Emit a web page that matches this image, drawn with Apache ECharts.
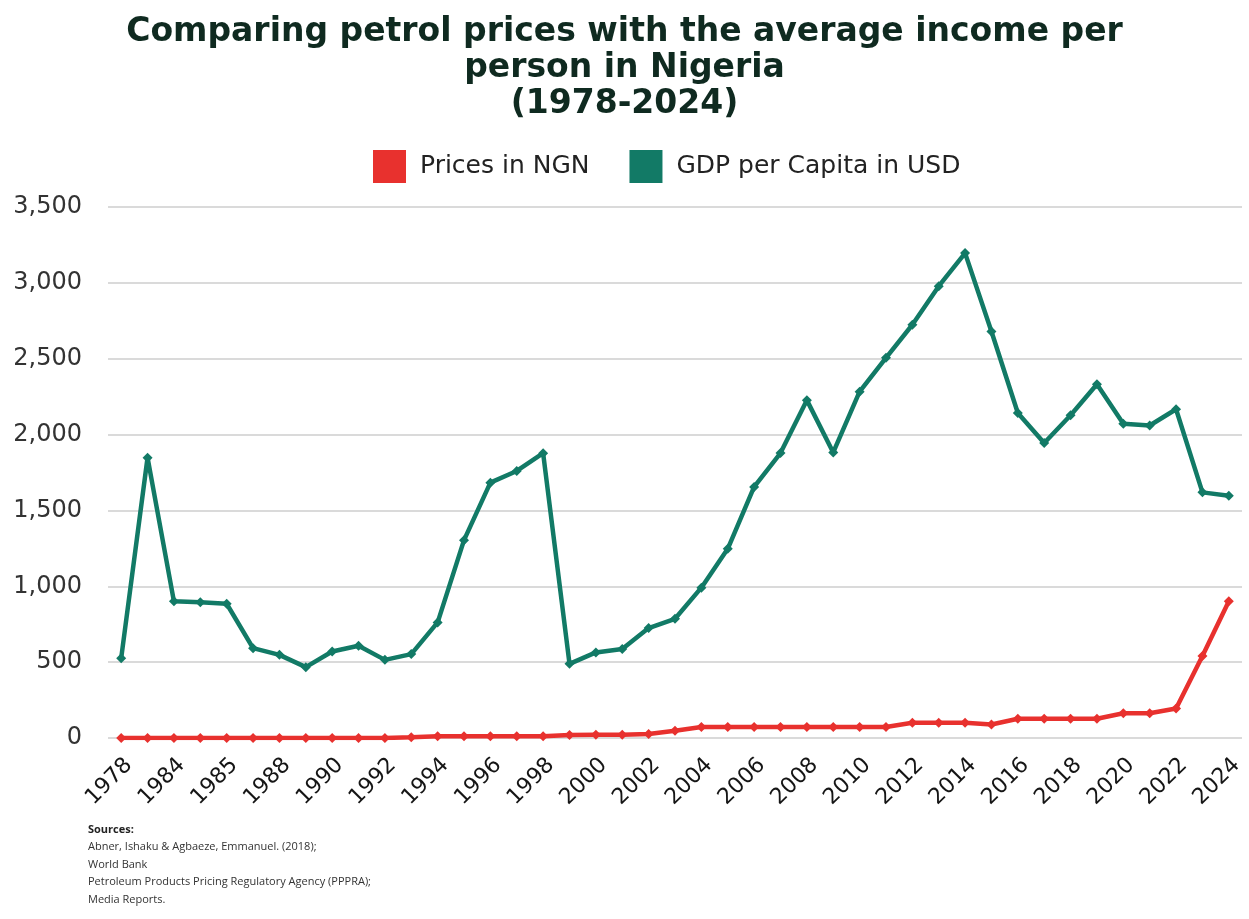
<!DOCTYPE html>
<html>
<head>
<meta charset="utf-8">
<script src="https://cdn.jsdelivr.net/npm/echarts@6/dist/echarts.min.js"></script>
<style>
  html, body { margin: 0; padding: 0; background: #ffffff; }
  #chart { width: 1249px; height: 919px; }
</style>
</head>
<body>
<div id="chart"></div>
<script>
// Year labels (every other one is shown on the axis)
const years = ["1978","1982","1984","1984","1985","1986","1988","1989","1990","1991","1992","1993","1994","1995","1996","1997","1998","1999","2000","2001","2002","2003","2004","2005","2006","2007","2008","2009","2010","2011","2012","2013","2014","2015","2016","2017","2018","2019","2020","2021","2022","2023","2024"];

// Petrol pump price per litre, Naira
const pricesNGN = [0.15,0.2,0.2,0.2,0.2,0.4,0.42,0.6,0.6,0.7,0.7,5,11,11,11,11,11,20,22,22,26,48,73,73,73,73,73,73,73,73,100,100,100,89,127,127,127,127,163,163,194,541,902];

// GDP per capita, current USD
const gdpPerCapitaUSD = [526,1848,901,894,885,592,548,467,570,608,515,553,762,1304,1683,1760,1877,489,564,586,725,786,991,1247,1655,1878,2227,1882,2283,2506,2724,2978,3196,2679,2142,1944,2127,2332,2071,2060,2167,1619,1597];

const yTicks = { min: 0, max: 3500, interval: 500 };

const sourceLines = [
  "Abner, Ishaku & Agbaeze, Emmanuel. (2018);",
  "World Bank",
  "Petroleum Products Pricing Regulatory Agency (PPPRA);",
  "Media Reports."
];

const RED = "#e8312e";
const GREEN = "#127a66";
const FONT = "DejaVu Sans";
const SMALL_FONT = "Open Sans";

const chart = echarts.init(document.getElementById("chart"));

chart.setOption({
  backgroundColor: "#ffffff",
  animation: false,
  title: {
    text: "Comparing petrol prices with the average income per\nperson in Nigeria\n(1978-2024)",
    left: "center",
    top: 9,
    textStyle: {
      fontFamily: FONT,
      fontSize: 33,
      fontWeight: "bold",
      color: "#0f2a20",
      lineHeight: 36
    }
  },
  legend: {
    top: 145,
    left: 368,
    itemWidth: 33,
    itemHeight: 33,
    itemGap: 40,
    icon: "rect",
    textStyle: { fontFamily: FONT, fontSize: 25, color: "#222", padding: [0, 0, 0, 9] },
    data: [
      { name: "Prices in NGN", itemStyle: { color: RED } },
      { name: "GDP per Capita in USD", itemStyle: { color: GREEN } }
    ]
  },
  grid: { left: 108, right: 7, top: 207, bottom: 181, containLabel: false },
  xAxis: {
    type: "category",
    data: years,
    boundaryGap: true,
    axisLine: { show: false },
    axisTick: { show: false },
    axisLabel: {
      interval: 1,
      rotate: 45,
      margin: 16,
      verticalAlign: "top",
      fontFamily: FONT,
      fontSize: 22,
      color: "#151515"
    }
  },
  yAxis: {
    type: "value",
    min: yTicks.min,
    max: yTicks.max,
    interval: yTicks.interval,
    axisLine: { show: false },
    axisTick: { show: false },
    axisLabel: {
      margin: 26,
      fontFamily: FONT,
      fontSize: 24,
      color: "#333",
      formatter: v => v.toLocaleString("en-US")
    },
    splitLine: { lineStyle: { color: "#dadada", width: 2 } }
  },
  series: [
    {
      name: "GDP per Capita in USD",
      type: "line",
      data: gdpPerCapitaUSD,
      symbol: "diamond",
      symbolSize: 10,
      showAllSymbol: true,
      lineStyle: { color: GREEN, width: 4.5 },
      itemStyle: { color: GREEN },
      z: 3
    },
    {
      name: "Prices in NGN",
      type: "line",
      data: pricesNGN,
      symbol: "diamond",
      symbolSize: 10,
      showAllSymbol: true,
      lineStyle: { color: RED, width: 4.5 },
      itemStyle: { color: RED },
      z: 4
    }
  ],
  graphic: [
    {
      type: "text",
      left: 88,
      top: 821,
      style: {
        text: "{b|Sources:}\n" + sourceLines.join("\n"),
        fontFamily: SMALL_FONT,
        fontSize: 11,
        lineHeight: 17.5,
        fill: "#333",
        rich: {
          b: { fontFamily: SMALL_FONT, fontSize: 11, fontWeight: 700, fill: "#222", lineHeight: 17.5 }
        }
      }
    }
  ]
});
</script>
</body>
</html>
